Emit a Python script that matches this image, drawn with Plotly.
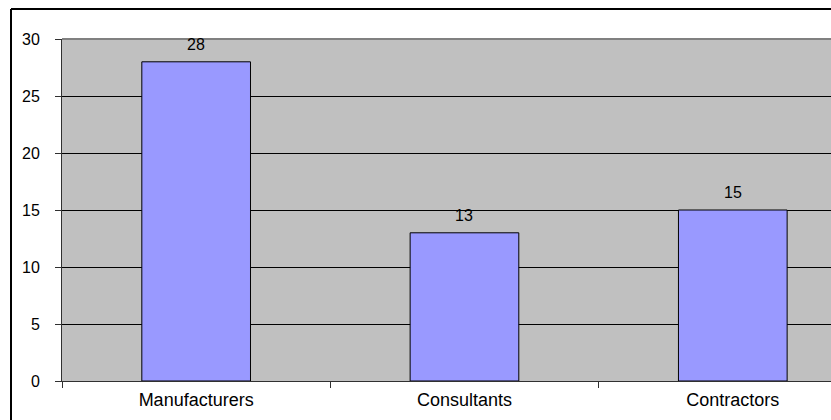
import plotly.graph_objects as go

categories = ["Manufacturers", "Consultants", "Contractors"]
counts = [28, 13, 15]
y_ticks = [0, 5, 10, 15, 20, 25, 30]

W, H = 831, 420
ML, MR, MT, MB = 62, 0, 39, 39
pw, ph = W - ML - MR, H - MT - MB
FONT = "Liberation Sans, Arial"

fig = go.Figure(
    go.Bar(
        x=categories,
        y=counts,
        marker=dict(color="#9999FF", line=dict(color="black", width=1)),
        width=0.405,
        hoverinfo="x+y",
    )
)

# value labels above each bar
for cat, v in zip(categories, counts):
    fig.add_annotation(
        x=cat, y=v, text=str(v), showarrow=False,
        yanchor="bottom", yshift=7,
        font=dict(family=FONT, size=16, color="black"),
    )

def px_x(p):
    return (p - ML) / pw

def px_y(p):
    return (H - MB - p) / ph

# outer chart frame (left and top edges)
fig.add_shape(type="line", xref="paper", yref="paper",
              x0=px_x(11), x1=px_x(W + 5), y0=px_y(9), y1=px_y(9),
              line=dict(color="black", width=2))
fig.add_shape(type="line", xref="paper", yref="paper",
              x0=px_x(11), x1=px_x(11), y0=px_y(9), y1=px_y(H + 5),
              line=dict(color="black", width=2))
# top edge of plot area
fig.add_shape(type="line", xref="paper", yref="paper",
              x0=0, x1=1, y0=1, y1=1,
              line=dict(color="#808080", width=2))

fig.update_layout(
    width=W, height=H,
    margin=dict(l=ML, r=MR, t=MT, b=MB),
    paper_bgcolor="white",
    plot_bgcolor="#C0C0C0",
    showlegend=False,
    font=dict(family=FONT, size=16, color="black"),
    xaxis=dict(
        type="category",
        range=[-0.5, 2.366],
        tickson="boundaries",
        ticks="outside", ticklen=6, tickcolor="#303030",
        showline=True, linecolor="#303030", linewidth=1,
        showgrid=False, zeroline=False,
        tickfont=dict(size=18),
        ticklabelstandoff=2,
    ),
    yaxis=dict(
        range=[0, 30],
        tickvals=y_ticks,
        ticks="outside", ticklen=6, tickcolor="#303030",
        showline=True, linecolor="#303030", linewidth=1,
        showgrid=True, gridcolor="black", gridwidth=1,
        zeroline=False,
        tickfont=dict(size=16),
        ticklabelstandoff=12,
    ),
)

fig.write_html("out.html")
